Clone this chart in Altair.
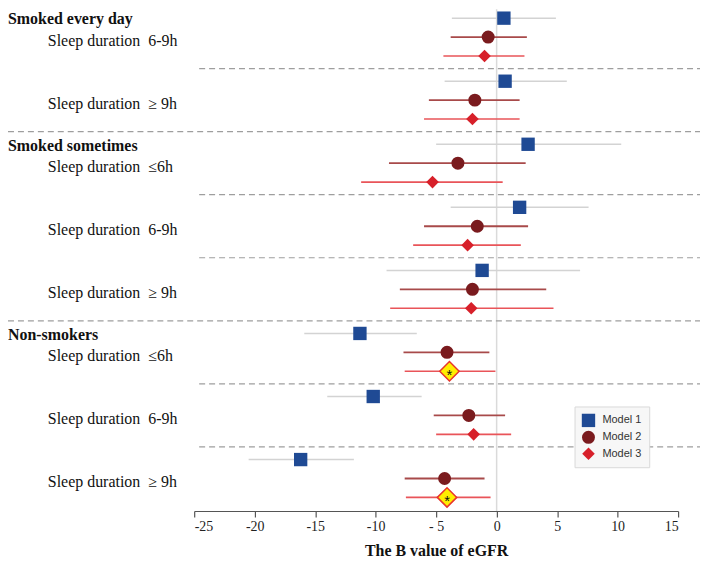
import altair as alt
import pandas as pd

# ---------------- data ----------------
groups = ["Smoked every day", "Smoked sometimes", "Non-smokers"]
group_first_sub = [0, 2, 5]
sub_labels = ["Sleep duration\u00a0\u00a06-9h", "Sleep duration\u00a0\u00a0\u2265 9h",
              "Sleep duration\u00a0\u00a0\u22646h", "Sleep duration\u00a0\u00a06-9h",
              "Sleep duration\u00a0\u00a0\u2265 9h",
              "Sleep duration\u00a0\u00a0\u22646h", "Sleep duration\u00a0\u00a06-9h",
              "Sleep duration\u00a0\u00a0\u2265 9h"]
models = ["Model 1", "Model 2", "Model 3"]

m1_est = [0.6, 0.7, 2.6, 1.9, -1.2, -11.3, -10.2, -16.2]
m1_lo = [-3.7, -4.3, -5.0, -3.8, -9.1, -15.9, -14.0, -20.5]
m1_hi = [4.9, 5.8, 10.3, 7.6, 6.9, -6.6, -6.2, -11.8]
m2_est = [-0.7, -1.8, -3.2, -1.6, -2.0, -4.1, -2.3, -4.3]
m2_lo = [-3.8, -5.6, -8.9, -6.0, -8.0, -7.7, -5.2, -7.6]
m2_hi = [2.5, 1.9, 2.4, 2.6, 4.1, -0.6, 0.7, -1.0]
m3_est = [-1.0, -2.0, -5.3, -2.4, -2.1, -3.9, -1.9, -4.1]
m3_lo = [-4.4, -6.0, -11.2, -6.9, -8.8, -7.6, -5.0, -7.5]
m3_hi = [2.3, 1.9, 0.5, 2.0, 4.7, -0.1, 1.2, -0.5]
m3_sig = [False, False, False, False, False, True, False, True]

sep_after = [0, 1, 2, 3, 4, 5, 6]
sep_full = [False, True, False, False, True, False, False]
tick_values = [-25, -20, -15, -10, -5, 0, 5, 10, 15]

# ---------------- tables ----------------
ests = [m1_est, m2_est, m3_est]
los = [m1_lo, m2_lo, m3_lo]
his = [m1_hi, m2_hi, m3_hi]
rows = []
for k in range(len(sub_labels)):
    for m in range(3):
        rows.append(dict(sub=k, m=m, model=models[m], est=ests[m][k],
                         lo=los[m][k], hi=his[m][k],
                         sig=bool(m == 2 and m3_sig[k])))
df = pd.DataFrame(rows)
lab_df = pd.DataFrame(dict(sub=list(range(len(sub_labels))), label=sub_labels))
grp_df = pd.DataFrame(dict(sub=group_first_sub, label=groups))
sep_df = pd.DataFrame(dict(sub=sep_after, full=sep_full))
zero_df = pd.DataFrame(dict(z=[0]))

YS = alt.Scale(domain=[-0.142, 7.816], reverse=True)
XS = alt.Scale(domain=[-25, 15], nice=False, zero=False)
AX = alt.Axis(values=tick_values, title="The B value of eGFR", grid=False,
              domainColor="#555555", tickColor="#555555", tickSize=6,
              domainWidth=1.2, tickWidth=1.2,
              labelFont="Liberation Serif", labelFontSize=14, labelColor="#222222",
              labelPadding=3,
              labelExpr="datum.value == -5 ? '- 5' : '' + datum.value",
              titleFont="Liberation Serif", titleFontSize=16, titleFontWeight="bold",
              titleColor="#111111", titlePadding=9)
Y = alt.Y("v:Q", scale=YS, axis=None)

base = alt.Chart(df).transform_calculate(v="datum.sub + datum.m * 0.3")

zero = alt.Chart(zero_df).mark_rule(color="#dadada", strokeWidth=1.5).encode(
    x=alt.X("z:Q", scale=XS, axis=AX))

seps = alt.Chart(sep_df).transform_calculate(v="datum.sub + 0.8")
sep_part = seps.transform_filter("!datum.full").mark_rule(
    color="#9e9e9e", strokeDash=[6, 4], strokeWidth=1.2).encode(
    y=Y, x=alt.value(5), x2=alt.value(508))
sep_whole = seps.transform_filter("datum.full").mark_rule(
    color="#9e9e9e", strokeDash=[6, 4], strokeWidth=1.2).encode(
    y=Y, x=alt.value(-187), x2=alt.value(508))

line_styles = {"Model 1": ("#d3d3d3", 1.5), "Model 2": ("#a84a4a", 1.8),
               "Model 3": ("#e95459", 1.6)}
ci_layers = []
for mname in models:
    col, w = line_styles[mname]
    ci_layers.append(base.transform_filter(alt.datum.model == mname).mark_rule(
        color=col, strokeWidth=w).encode(
        x=alt.X("lo:Q", scale=XS, axis=AX), x2="hi:Q", y=Y))

LEG = alt.Legend(title=None, orient="none", legendX=382, legendY=399,
                 fillColor="#f7f7f7", strokeColor="#d9d9d9", padding=7,
                 labelFont="Liberation Sans", labelFontSize=11, labelColor="#333333",
                 symbolSize=70, symbolStrokeWidth=0, rowPadding=3, labelOffset=7)

points = base.mark_point(filled=True, opacity=1).encode(
    x=alt.X("est:Q", scale=XS, axis=AX), y=Y,
    color=alt.Color("model:N", scale=alt.Scale(domain=models,
                    range=["#1f4a94", "#7a1b1e", "#d7202a"]), legend=LEG),
    shape=alt.Shape("model:N", scale=alt.Scale(domain=models,
                    range=["square", "circle", "diamond"]), legend=LEG),
    size=alt.Size("model:N", scale=alt.Scale(domain=models, range=[180, 160, 140]),
                  legend=None),
)

hl = base.transform_filter("datum.sig").mark_point(
    shape="diamond", filled=True, fill="#ffee00", stroke="#e8352c",
    strokeWidth=1.5, size=380, opacity=1).encode(
    x=alt.X("est:Q", scale=XS, axis=AX), y=Y)
star = base.transform_filter("datum.sig").mark_text(
    text="*", fontSize=15, color="#111111", dy=4, font="Liberation Sans").encode(
    x=alt.X("est:Q", scale=XS, axis=AX), y=Y)

sub_text = alt.Chart(lab_df).transform_calculate(v="datum.sub + 0.36").mark_text(
    align="left", baseline="middle", font="Liberation Serif", fontSize=16,
    color="#111111").encode(x=alt.value(-147), y=Y, text="label:N")
grp_text = alt.Chart(grp_df).transform_calculate(v="datum.sub + 0.02").mark_text(
    align="left", baseline="middle", font="Liberation Serif", fontSize=16,
    fontWeight="bold", color="#111111").encode(x=alt.value(-187), y=Y, text="label:N")

chart = alt.layer(zero, sep_part, sep_whole, *ci_layers, points, hl, star,
                  sub_text, grp_text).properties(
    width=486, height=504,
    background="white",
    autosize=alt.AutoSizeParams(type="none"),
    padding={"left": 187, "top": 0, "right": 22, "bottom": 50},
).configure_view(stroke=None)

chart.save("out.html", embed_options={"renderer": "svg", "actions": False})
